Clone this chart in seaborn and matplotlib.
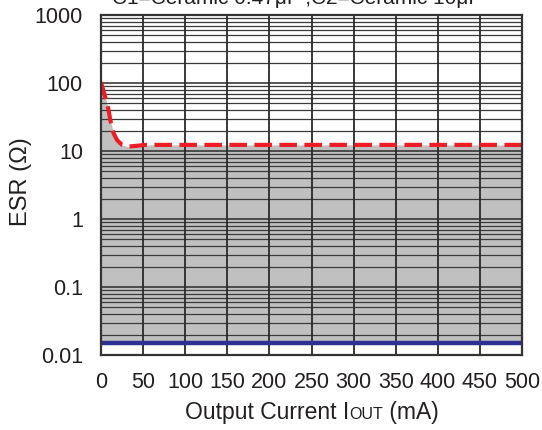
import matplotlib
matplotlib.use("Agg")
import matplotlib.pyplot as plt
from matplotlib.ticker import FixedLocator, NullFormatter, NullLocator
import seaborn as sns
import numpy as np
import pandas as pd

# Stability boundaries of ESR vs. output current
upper_current = [0, 5, 9, 11, 15, 19, 25, 32, 42, 52, 500]               # mA
upper_esr = [103, 62, 40, 28.6, 18.2, 14.5, 12.3, 11.6, 11.9, 12.3, 12.3]  # ohm
lower_current = [0, 500]                                                  # mA
lower_esr = [0.015, 0.015]                                                # ohm

x_ticks = [0, 50, 100, 150, 200, 250, 300, 350, 400, 450, 500]
y_ticks = [0.01, 0.1, 1, 10, 100, 1000]
y_tick_labels = ["0.01", "0.1", "1", "10", "100", "1000"]
title_text = "C1=Ceramic 0.47\u03bcF ,C2=Ceramic 10\u03bcF"

sns.set_style("white")
plt.rcParams["font.family"] = ["Liberation Sans", "DejaVu Sans"]

W, H, DPI = 542, 430, 100
fig = plt.figure(figsize=(W / DPI, H / DPI), dpi=DPI)
ax = fig.add_axes([101 / W, 1 - 355 / H, (522 - 101) / W, (355 - 15) / H])

upper = pd.DataFrame({"I": upper_current, "ESR": upper_esr})
lower = pd.DataFrame({"I": lower_current, "ESR": lower_esr})

ax.set_yscale("log")
ax.set_xlim(0, 500)
ax.set_ylim(0.01, 1000)

# stable region between the two boundaries
fine_i = np.linspace(0, 500, 2001)
up_interp = 10 ** np.interp(fine_i, upper_current, np.log10(upper_esr))
lo_interp = np.interp(fine_i, lower_current, lower_esr)
ax.fill_between(fine_i, lo_interp, up_interp, color="#c0c0c0", lw=0, zorder=0)

# grid
minor_ticks = [m * 10.0 ** e for e in range(-2, 3) for m in range(2, 10)]
for v in minor_ticks:
    ax.axhline(v, color="#3a3a3a", lw=0.9, zorder=1)
for v in y_ticks:
    ax.axhline(v, color="#2a2a2a", lw=1.1, zorder=1)
for v in x_ticks:
    ax.axvline(v, color="#2a2a2a", lw=1.3, zorder=1)

sns.lineplot(data=lower, x="I", y="ESR", ax=ax, color="#2e3192", lw=3.2,
             zorder=3, legend=False)
sns.lineplot(data=upper, x="I", y="ESR", ax=ax, color="#ee1c25", lw=3.0,
             zorder=4, legend=False, dashes=False, linestyle=(0, (4.2, 1.8)))

ax.xaxis.set_major_locator(FixedLocator(x_ticks))
ax.yaxis.set_major_locator(FixedLocator(y_ticks))
ax.yaxis.set_minor_locator(NullLocator())
ax.yaxis.set_minor_formatter(NullFormatter())
ax.set_xticklabels([str(t) for t in x_ticks])
ax.set_yticklabels(y_tick_labels)
ax.tick_params(axis="x", length=0, pad=12, labelsize=15.5, colors="#231f20")
ax.tick_params(axis="y", length=0, pad=13, labelsize=15.5, colors="#231f20")
ax.set_xlabel("")
ax.set_ylabel("")

for s in ax.spines.values():
    s.set_visible(True)
    s.set_color("#333333")
    s.set_linewidth(1.6)
    s.set_zorder(5)

# y axis label
fig.text(21 / W, 1 - 182 / H, "ESR (\u03a9)", rotation=90, ha="center",
         va="center", fontsize=17, color="#231f20")

# x axis label with subscript-style "OUT"
fig.canvas.draw()
renderer = fig.canvas.get_renderer()
parts = [("Output Current I", 16.5), ("OUT", 11.5), (" (mA)", 16.5)]
widths = []
for txt, fs in parts:
    t = fig.text(0, 0, txt, fontsize=fs)
    widths.append(t.get_window_extent(renderer).width)
    t.remove()
total = sum(widths)
x0 = 312 - total / 2
base_y = 1 - 419 / H
for (txt, fs), w in zip(parts, widths):
    fig.text(x0 / W, base_y, txt, fontsize=fs, va="baseline", ha="left",
             color="#231f20")
    x0 += w

# heading (partly beyond the top edge)
fig.text(297 / W, 1 - 4.5 / H, title_text, fontsize=15, ha="center",
         va="baseline", color="#231f20")

fig.savefig("out.png", dpi=DPI)
